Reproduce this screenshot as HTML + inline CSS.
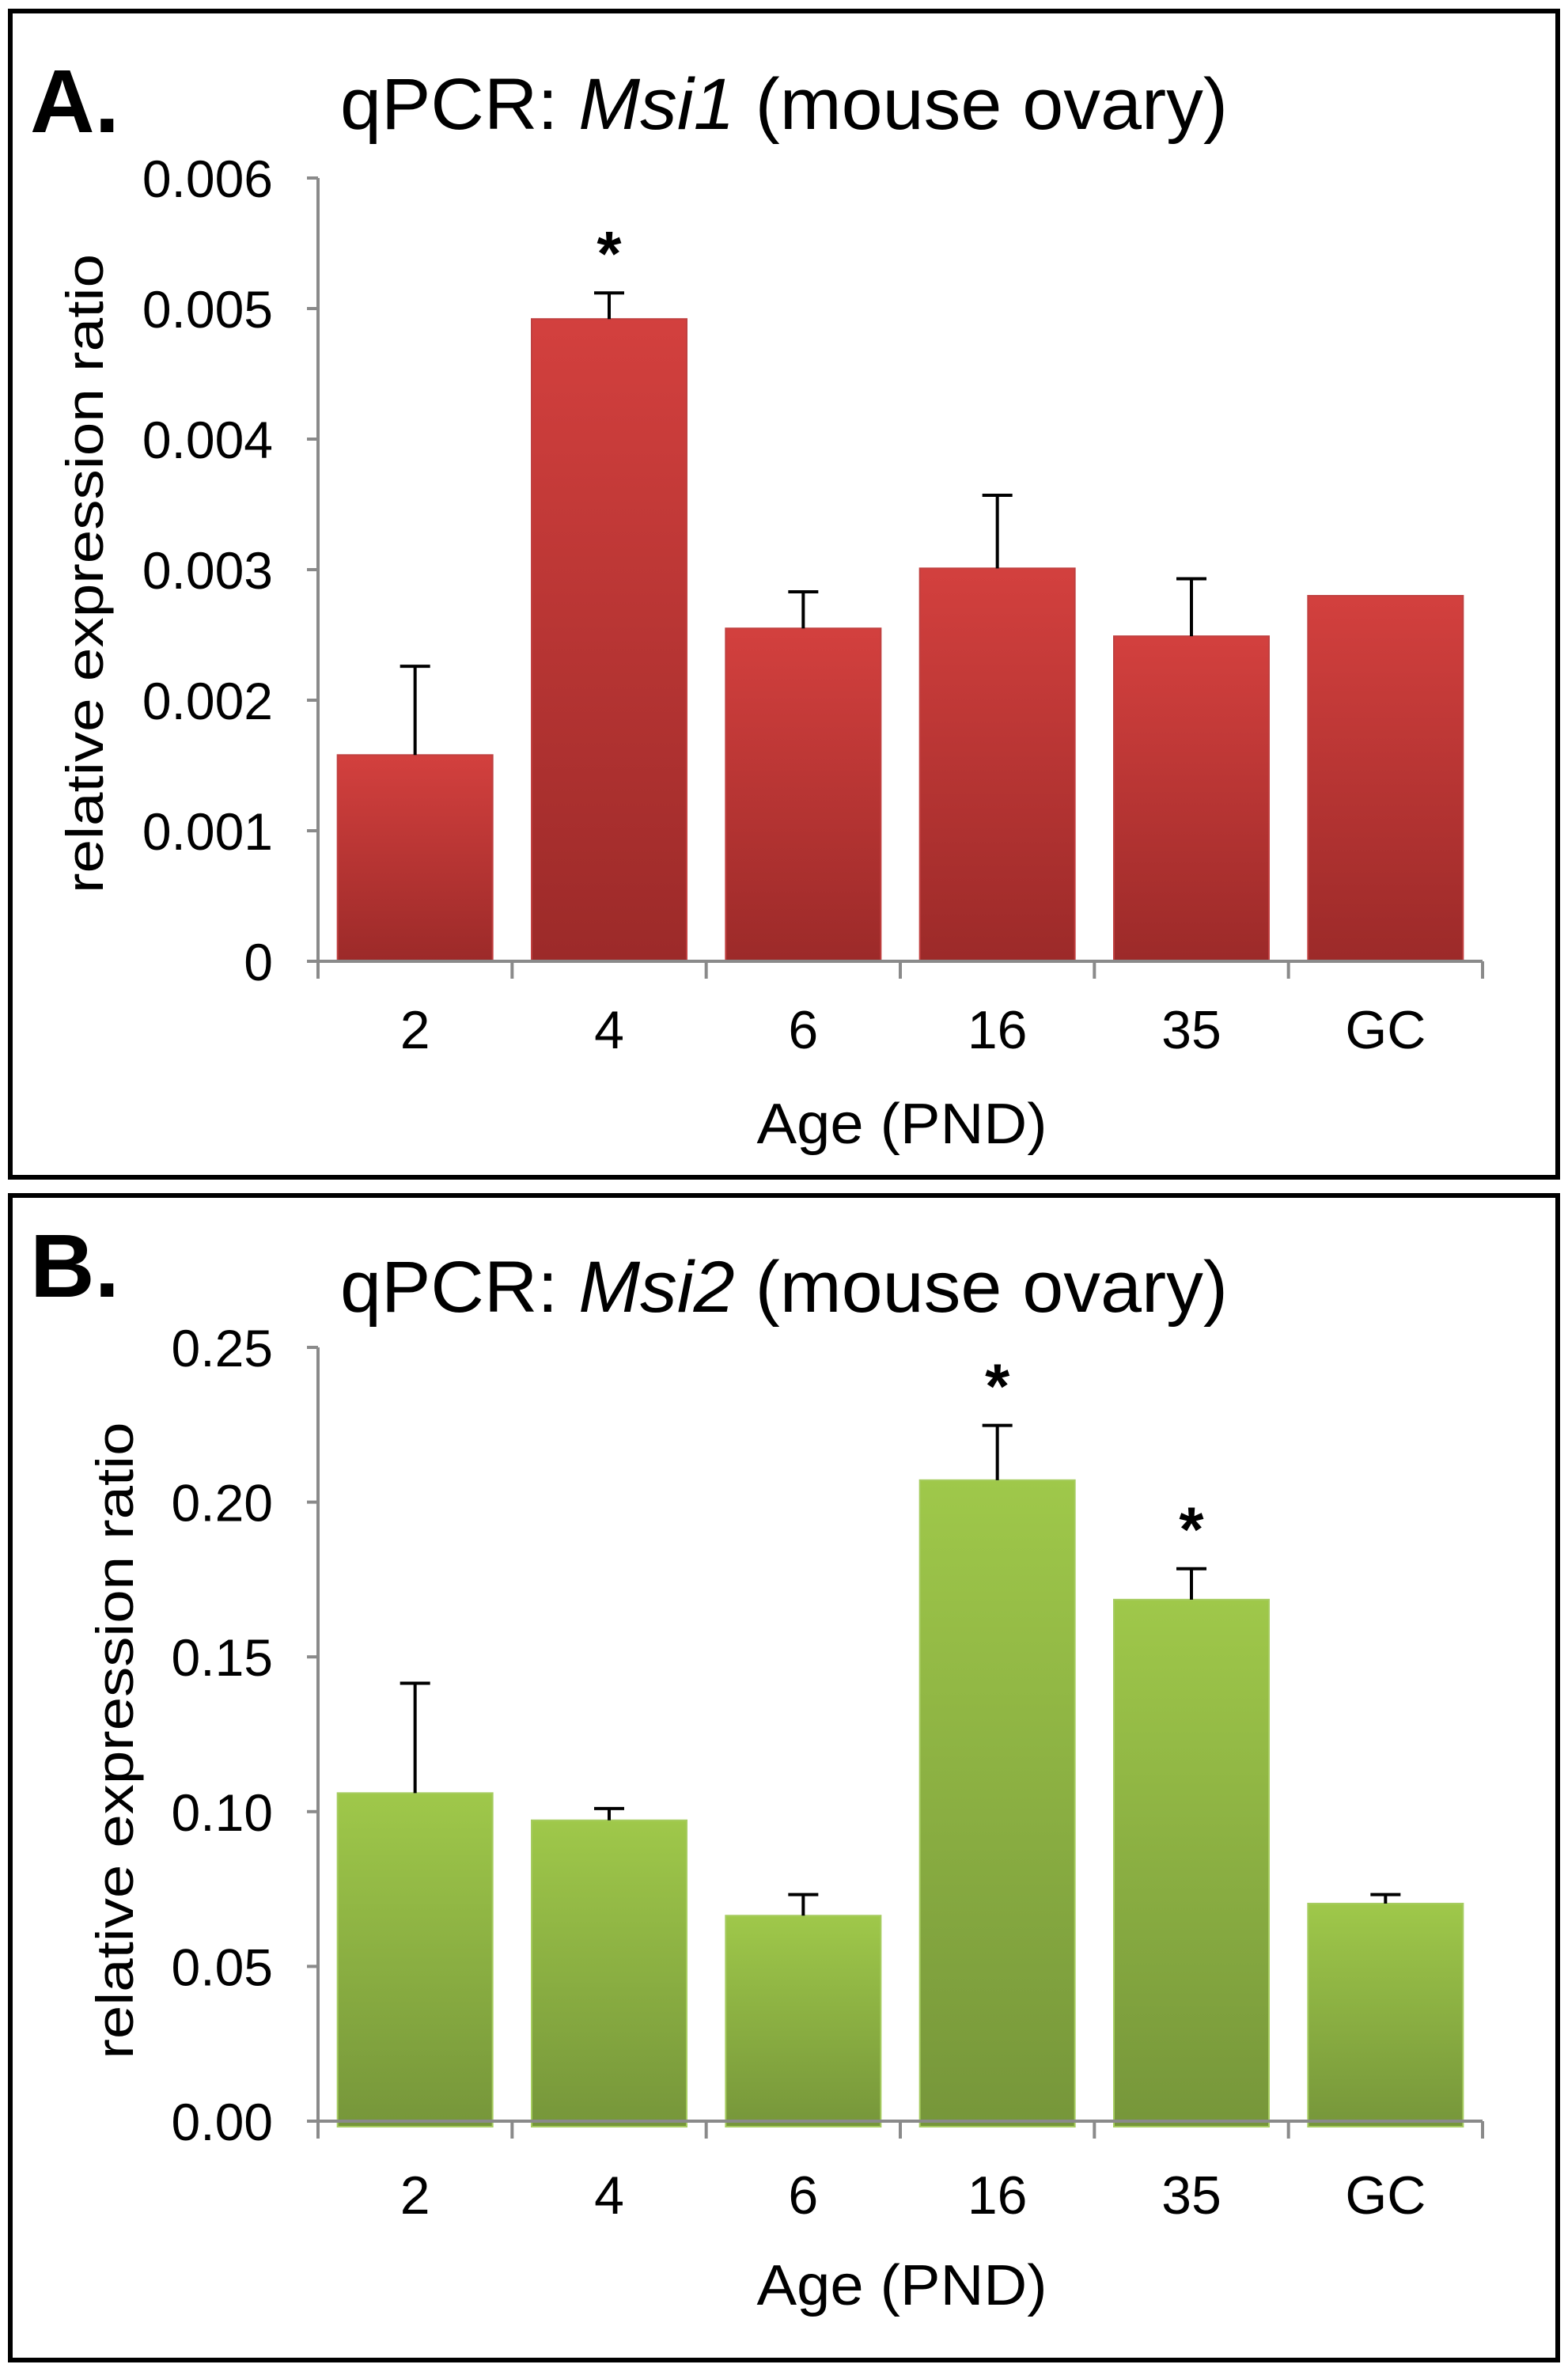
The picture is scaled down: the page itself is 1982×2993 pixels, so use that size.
<!DOCTYPE html>
<html><head><meta charset="utf-8"><style>
html,body{margin:0;padding:0;background:#fff}
svg{display:block}
text{font-family:"Liberation Sans",Arial,sans-serif}
</style></head><body>
<svg id="fig" width="1982" height="2993" viewBox="0 0 1982 2993" xmlns="http://www.w3.org/2000/svg">
<defs>
<linearGradient id="gRed" x1="0" y1="0" x2="0" y2="1"><stop offset="0" stop-color="#d3403e"/><stop offset="1" stop-color="#9c2a29"/></linearGradient>
<linearGradient id="gGreen" x1="0" y1="0" x2="0" y2="1"><stop offset="0" stop-color="#9fc84a"/><stop offset="1" stop-color="#76963a"/></linearGradient>
</defs>
<rect x="13" y="14" width="1956" height="1474" fill="none" stroke="#000" stroke-width="6"/>
<rect x="13" y="1511" width="1956" height="1472" fill="none" stroke="#000" stroke-width="6"/>
<g id="pa"></g>
<g id="pb"></g>
</svg>
<script>
const categories = ["2","4","6","16","35","GC"];
const msi1Values = [0.00158, 0.00492, 0.00255, 0.00301, 0.00249, 0.00280];
const msi1ErrTop = [0.00226, 0.00512, 0.00283, 0.00357, 0.00293, null];
const msi1Stars = [false, true, false, false, false, false];
const msi1Ticks = ["0","0.001","0.002","0.003","0.004","0.005","0.006"];
const msi2Values = [0.106, 0.0972, 0.0664, 0.2071, 0.1685, 0.0703];
const msi2ErrTop = [0.1415, 0.101, 0.0732, 0.2248, 0.1785, 0.0732];
const msi2Stars = [false, false, false, true, true, false];
const msi2Ticks = ["0.00","0.05","0.10","0.15","0.20","0.25"];

const NS = "http://www.w3.org/2000/svg";
function mk(parent, tag, attrs, txt){
  const e = document.createElementNS(NS, tag);
  for (const k in attrs) e.setAttribute(k, attrs[k]);
  if (txt !== undefined) e.textContent = txt;
  parent.appendChild(e);
  return e;
}
function draw(g, cfg){
  const x0 = 402, x1 = 1874, yTop = cfg.yTop, yBot = cfg.yBot;
  const ymax = cfg.ymax;
  const ys = v => yBot - (v / ymax) * (yBot - yTop);
  const bw = (x1 - x0) / categories.length;
  const xs = i => x0 + bw * i + bw / 2;
  let t;
  t = mk(g, "text", {x: 38, y: cfg.letterY, "font-size": 113, "font-weight": "bold", fill: "#000"}, cfg.letter);
  
  
  t = mk(g, "text", {x: 430, y: cfg.titleY, "font-size": 92, fill: "#000", textLength: 1122, lengthAdjust: "spacingAndGlyphs"});
  
  
  mk(t, "tspan", {}, "qPCR: ");
  mk(t, "tspan", {"font-style": "italic"}, cfg.gene);
  mk(t, "tspan", {}, " (mouse  ovary)");
  // bars
  categories.forEach((c, i) => {
    const v = cfg.values[i];
    const b = mk(g, "rect", {x: xs(i) - 98, y: ys(v), width: 196, height: ys(0) - ys(v) + cfg.barExtra, fill: cfg.fill, stroke: cfg.edge, "stroke-width": 2});
    
    
    const e = cfg.err[i];
    if (e !== null) {
      const eg = mk(g, "path", {d: `M${xs(i)} ${ys(v)} V${ys(e)} M${xs(i)-19} ${ys(e)} H${xs(i)+19}`, stroke: "#000", "stroke-width": 4, fill: "none"});
      
      
    }
    if (cfg.stars[i]) {
      const s = mk(g, "text", {x: xs(i), y: ys(e !== null ? e : v) - 22, "font-size": 80, "font-weight": "bold", "text-anchor": "middle"}, "*");
      
      
    }
    const l = mk(g, "text", {x: xs(i), y: cfg.xlabY, "font-size": 68, "text-anchor": "middle", fill: "#000"}, c);
    
    
  });
  // axes
  const ax = mk(g, "path", {d: `M${x0} ${yTop} V${yBot} H${x1}`, stroke: "#8a8a8a", "stroke-width": 4, fill: "none"});
  
  
  for (let i = 0; i <= categories.length; i++) {
    const tk = mk(g, "line", {x1: x0 + bw * i, x2: x0 + bw * i, y1: yBot, y2: yBot + 22, stroke: "#8a8a8a", "stroke-width": 4});
    
    
  }
  const step = ymax / (cfg.ticks.length - 1);
  cfg.ticks.forEach((lab, i) => {
    const y = ys(step * i);
    const tk = mk(g, "line", {x1: x0 - 14, x2: x0, y1: y, y2: y, stroke: "#8a8a8a", "stroke-width": 4});
    
    
    const tl = mk(g, "text", {x: 345, y: y + 24, "font-size": 66, "text-anchor": "end", fill: "#000"}, lab);
    
    
  });
  const yl = mk(g, "text", {x: 0, y: 0, "font-size": 66, "text-anchor": "middle", textLength: cfg.ylLen, lengthAdjust: "spacingAndGlyphs", transform: `translate(${cfg.ylX},${cfg.ylY}) rotate(-90)`}, "relative  expression  ratio");
  
  
  const xl = mk(g, "text", {x: 1140, y: cfg.ageY, "font-size": 72, "text-anchor": "middle", textLength: 367, lengthAdjust: "spacingAndGlyphs"}, "Age  (PND)");
  
  
}
draw(document.getElementById("pa"), {letter:"A.", letterY:167, gene:"Msi1", titleY:163, yTop:225, yBot:1215, ymax:0.006,
  values:msi1Values, err:msi1ErrTop, stars:msi1Stars, ticks:msi1Ticks, fill:"url(#gRed)", edge:"#c04040", barExtra:0,
  xlabY:1325, ageY:1445, ylX:130, ylY:725, ylLen:808});
draw(document.getElementById("pb"), {letter:"B.", letterY:1639, gene:"Msi2", titleY:1658, yTop:1703, yBot:2681, ymax:0.25,
  values:msi2Values, err:msi2ErrTop, stars:msi2Stars, ticks:msi2Ticks, fill:"url(#gGreen)", edge:"#a6cc60", barExtra:7,
  xlabY:2798, ageY:2913, ylX:168, ylY:2200, ylLen:805});
</script>
</body></html>
